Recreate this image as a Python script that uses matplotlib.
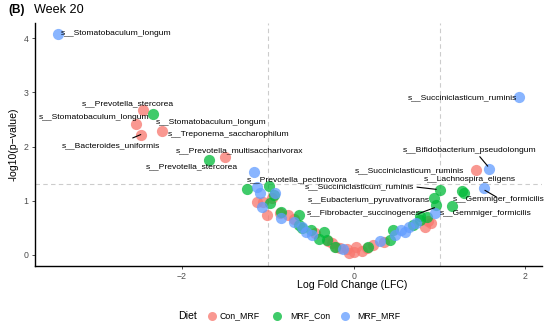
import numpy as np
import matplotlib
matplotlib.use("Agg")
import matplotlib.pyplot as plt
from matplotlib.lines import Line2D

plt.rcParams['font.family'] = ['Liberation Sans', 'DejaVu Sans']

# =============================================================================
# DATA
# =============================================================================
groups = ["Con_MRF", "MRF_Con", "MRF_MRF"]
colors = {"Con_MRF": "#F8766D", "MRF_Con": "#00BA38", "MRF_MRF": "#619CFF"}

con_mrf_lfc = [-2.45, -2.53, -2.48, -2.23, -1.50, 1.42, -1.13, -1.05, -1.01, -0.95,
               -0.86, -0.76, -0.70, -0.45, -0.30, -0.25, -0.20, -0.16, -0.08, -0.05,
               0.00, 0.03, 0.10, 0.15, 0.23, 0.35, 0.83, 0.87, 0.90]
con_mrf_p = [2.67, 2.42, 2.22, 2.28, 1.80, 1.56, 0.98, 0.97, 0.74, 1.05,
             0.77, 0.74, 0.66, 0.40, 0.25, 0.22, 0.15, 0.12, 0.10, 0.03,
             0.06, 0.14, 0.08, 0.12, 0.18, 0.24, 0.52, 0.62, 0.58]

mrf_con_lfc = [-2.34, -1.68, -1.24, -0.99, -0.97, -0.93, -0.85, -0.64, -0.64, -0.60,
               -0.50, -0.40, -0.35, -0.31, -0.22, 0.17, 0.42, 0.46, 0.69, 0.77,
               0.77, 0.85, 0.93, 0.96, 1.01, 1.15, 1.26, 1.28]
mrf_con_p = [2.61, 1.75, 1.21, 1.27, 0.95, 1.10, 0.80, 0.74, 0.55, 0.49,
             0.45, 0.30, 0.43, 0.28, 0.15, 0.14, 0.28, 0.46, 0.55, 0.65,
             0.71, 0.70, 1.05, 0.92, 1.19, 0.90, 1.17, 1.14]

mrf_mrf_lfc = [-3.44, 1.93, 1.58, 1.52, -1.16, -1.13, -1.09, -1.07, -0.92, -0.84,
               -0.70, -0.60, -0.55, -0.49, -0.12, 0.31, 0.48, 0.55, 0.60, 0.65,
               0.73, 0.95]
mrf_mrf_p = [4.07, 2.91, 1.59, 1.23, 1.53, 1.26, 1.14, 0.89, 1.15, 0.68,
             0.60, 0.52, 0.43, 0.37, 0.10, 0.25, 0.37, 0.45, 0.43, 0.52,
             0.58, 0.77]

# label text, text anchor and alignment (data units)
label_text = ["s__Stomatobaculum_longum", "s__Prevotella_stercorea",
              "s__Stomatobaculum_longum", "s__Bacteroides_uniformis",
              "s__Stomatobaculum_longum", "s__Treponema_saccharophilum",
              "s__Prevotella_multisaccharivorax", "s__Prevotella_stercorea",
              "s__Prevotella_pectinovora", "s__Succiniclasticum_ruminis",
              "s__Bifidobacterium_pseudolongum", "s__Lachnospira_eligens",
              "s__Succiniclasticum_ruminis", "s__Eubacterium_pyruvativorans",
              "s__Gemmiger_formicilis", "s__Fibrobacter_succinogenes",
              "s__Gemmiger_formicilis", "s__Succiniclasticum_ruminis"]
label_x = [-3.415, -3.17, -3.67, -3.40, -2.30, -2.16, -2.07, -2.415, -1.244,
           0.015, 0.57, 0.82, -0.566, -0.528, 1.158, -0.54, 1.0035, 1.90]
label_y = [4.08, 2.79, 2.54, 2.02, 2.44, 2.22, 1.92, 1.62, 1.38,
           1.555, 1.92, 1.40, 1.25, 1.0, 1.015, 0.77, 0.77, 2.91]
label_ha = ["left"] * 17 + ["right"]

# connector segments (x0, y0, x1, y1)
segments = [(-2.57, 2.16, -2.48, 2.22),
            (1.47, 1.81, 1.56, 1.64),
            (1.53, 1.19, 1.66, 1.07),
            (0.74, 1.25, 0.96, 1.21),
            (0.77, 0.77, 0.94, 0.87)]

# =============================================================================
# PLOT
# =============================================================================
fig = plt.figure(figsize=(5.5, 3.25), dpi=100)
ax = fig.add_axes([0.0636, 0.1825, 0.9214, 0.7465])

ax.axhline(1.3, color="#cccccc", lw=0.8, ls=(0, (4, 3)), zorder=0)
ax.axvline(-1, color="#cccccc", lw=0.8, ls=(0, (4, 3)), zorder=0)
ax.axvline(1, color="#cccccc", lw=0.8, ls=(0, (4, 3)), zorder=0)

series = [(con_mrf_lfc, con_mrf_p, "Con_MRF"),
          (mrf_con_lfc, mrf_con_p, "MRF_Con"),
          (mrf_mrf_lfc, mrf_mrf_p, "MRF_MRF")]
for xs, ys, g in series:
    ax.scatter(xs, ys, s=65, color=colors[g], alpha=0.75, linewidths=0, zorder=2)

for t, x, y, ha in zip(label_text, label_x, label_y, label_ha):
    ax.text(x, y, t, fontsize=6.1, ha=ha, va="center", color="black", zorder=3)

for x0, y0, x1, y1 in segments:
    ax.plot([x0, x1], [y0, y1], color="black", lw=0.8, zorder=3)

ax.set_xlim(-3.71, 2.19)
ax.set_ylim(-0.2, 4.28)
ax.set_xticks([-2, 0, 2])
ax.set_yticks([0, 1, 2, 3, 4])
ax.tick_params(labelsize=6.3, labelcolor="#4d4d4d", color="#333333",
               length=2.5, width=0.6, pad=2)
for side in ["top", "right"]:
    ax.spines[side].set_visible(False)
for side in ["left", "bottom"]:
    ax.spines[side].set_linewidth(1.0)

fig.text(352 / 550, 1 - 285 / 325, "Log Fold Change (LFC)", fontsize=7.6,
         ha="center", va="center")
fig.text(14 / 550, 1 - 144 / 325, "-log10(p\u2212value)", fontsize=7.6,
         ha="center", va="center", rotation=90)

fig.text(8 / 550, 1 - 10 / 325, "(B)", fontsize=8.5, fontweight="bold",
         ha="left", va="center")
fig.text(34 / 550, 1 - 10 / 325, "Week 20", fontsize=9.1, ha="left", va="center")

# legend
ly = 1 - 315.7 / 325
fig.text(178 / 550, ly, "Diet", fontsize=7.6, ha="left", va="center")
for g, dx, tx in [("Con_MRF", 211.7, 219), ("MRF_Con", 276.7, 290.7),
                  ("MRF_MRF", 345, 357.3)]:
    fig.add_artist(Line2D([dx / 550], [ly], marker="o", markersize=6.5, lw=0,
                          color=colors[g], alpha=0.75, markeredgewidth=0,
                          transform=fig.transFigure))
    fig.text(tx / 550, ly, g, fontsize=6.3, ha="left", va="center")

fig.savefig("out.png", dpi=100)
